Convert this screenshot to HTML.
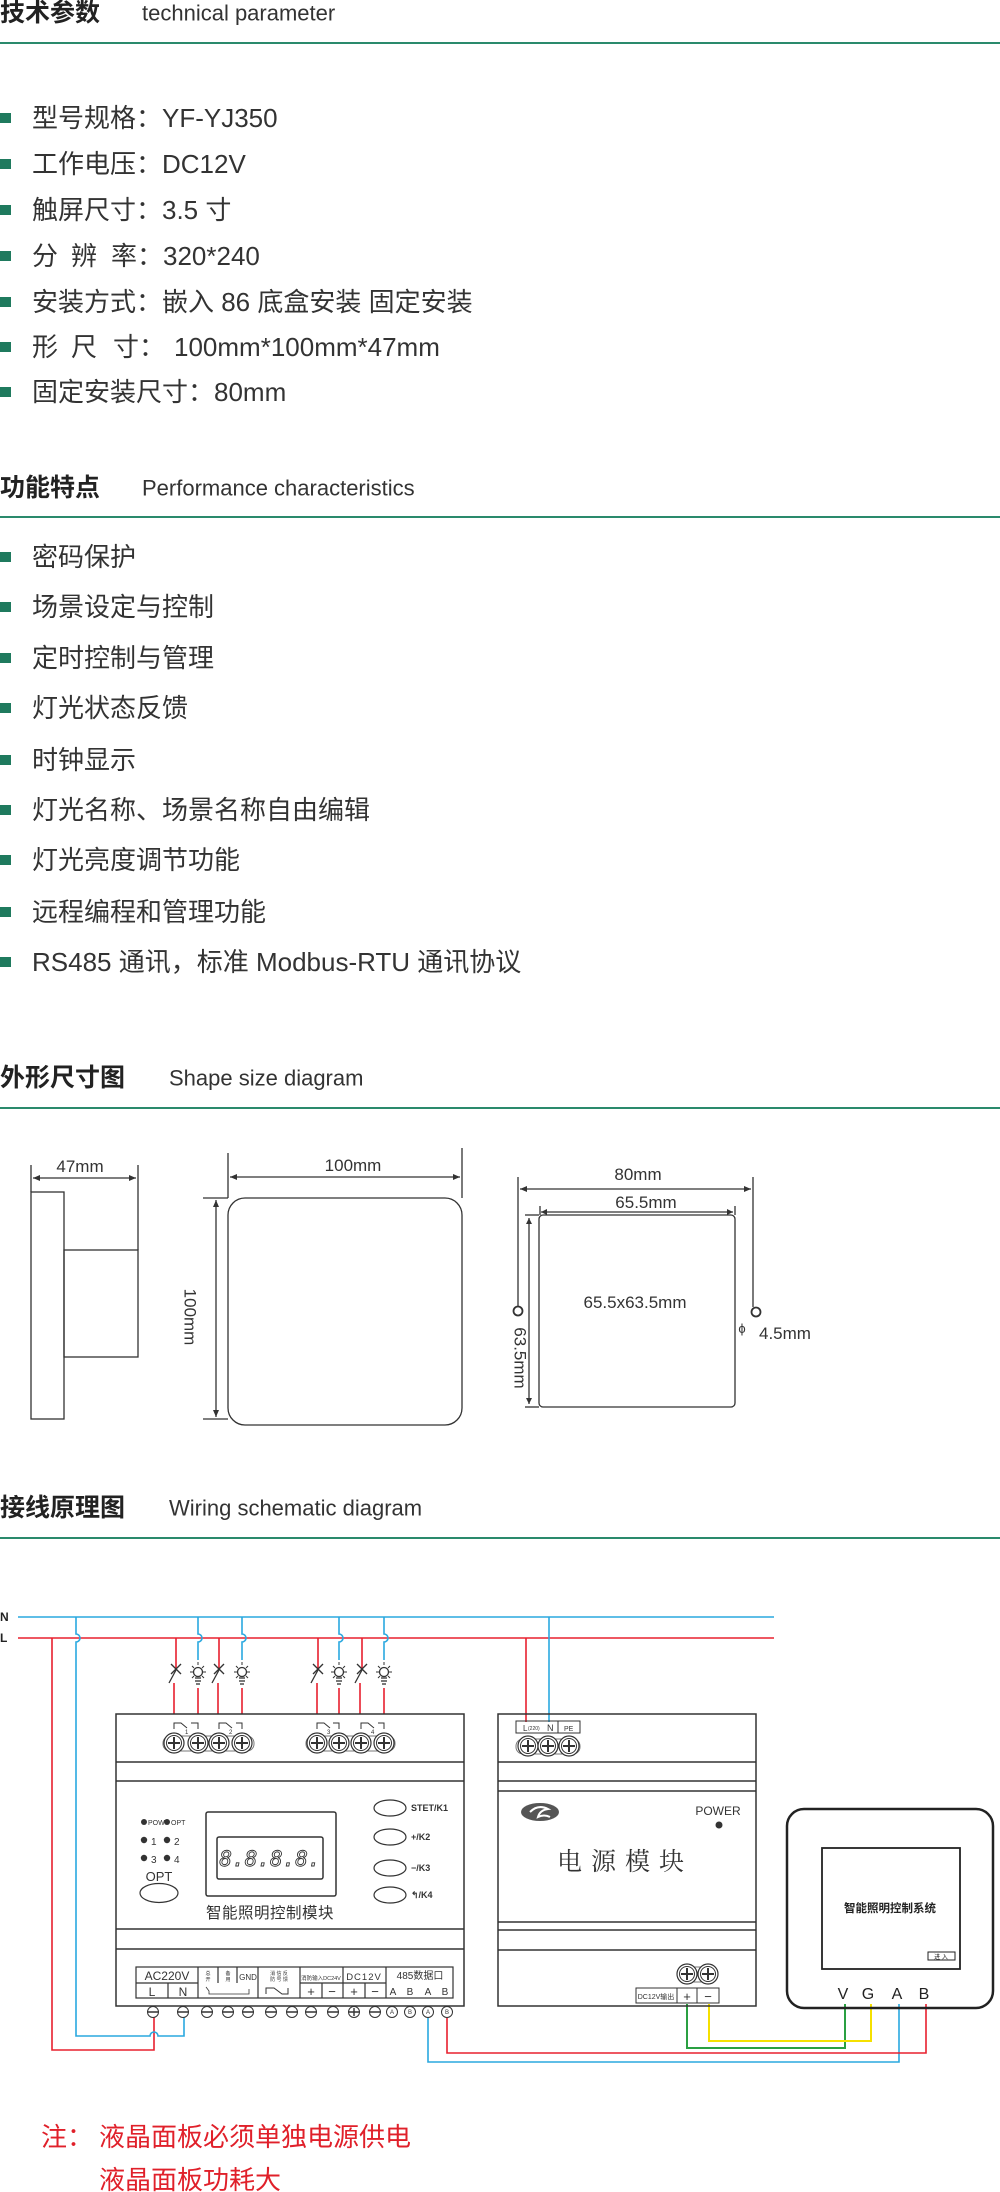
<!DOCTYPE html>
<html><head><meta charset="utf-8"><style>
html,body{margin:0;padding:0;background:#fff;}
svg{display:block;}
</style></head><body>
<svg width="1000" height="2192" viewBox="0 0 1000 2192" xmlns="http://www.w3.org/2000/svg">
<g font-family="Liberation Sans, Noto Sans CJK SC, sans-serif" fill="#333">
<text x="0" y="13" dominant-baseline="central" font-size="25" font-weight="bold" fill="#222">技术参数</text>
<text x="142" y="13" dominant-baseline="central" font-size="22" fill="#333">technical parameter</text>
<rect x="0" y="42" width="1000" height="2" fill="#2a8a6c"/>
<g font-size="26">
<rect x="0" y="113" width="11" height="10" fill="#1f7a5e"/><text x="32" y="118" dominant-baseline="central">型号规格：YF-YJ350</text>
<rect x="0" y="159" width="11" height="10" fill="#1f7a5e"/><text x="32" y="164" dominant-baseline="central">工作电压：DC12V</text>
<rect x="0" y="205" width="11" height="10" fill="#1f7a5e"/><text x="32" y="210" dominant-baseline="central">触屏尺寸：3.5 寸</text>
<rect x="0" y="251" width="11" height="10" fill="#1f7a5e"/><text y="256" dominant-baseline="central"><tspan x="32">分</tspan><tspan x="71">辨</tspan><tspan x="111">率：320*240</tspan></text>
<rect x="0" y="297" width="11" height="10" fill="#1f7a5e"/><text x="32" y="302" dominant-baseline="central">安装方式：嵌入 86 底盒安装  固定安装</text>
<rect x="0" y="342" width="11" height="10" fill="#1f7a5e"/><text y="347" dominant-baseline="central"><tspan x="32">形</tspan><tspan x="71">尺</tspan><tspan x="113">寸：</tspan><tspan x="174">100mm*100mm*47mm</tspan></text>
<rect x="0" y="387" width="11" height="10" fill="#1f7a5e"/><text x="32" y="392" dominant-baseline="central">固定安装尺寸：80mm</text>
</g>
<text x="0" y="488" dominant-baseline="central" font-size="25" font-weight="bold" fill="#222">功能特点</text>
<text x="142" y="488" dominant-baseline="central" font-size="22">Performance  characteristics</text>
<rect x="0" y="516" width="1000" height="2" fill="#2a8a6c"/>
<g font-size="26">
<rect x="0" y="552" width="11" height="10" fill="#1f7a5e"/><text x="32" y="557" dominant-baseline="central">密码保护</text>
<rect x="0" y="602" width="11" height="10" fill="#1f7a5e"/><text x="32" y="607" dominant-baseline="central">场景设定与控制</text>
<rect x="0" y="653" width="11" height="10" fill="#1f7a5e"/><text x="32" y="658" dominant-baseline="central">定时控制与管理</text>
<rect x="0" y="703" width="11" height="10" fill="#1f7a5e"/><text x="32" y="708" dominant-baseline="central">灯光状态反馈</text>
<rect x="0" y="755" width="11" height="10" fill="#1f7a5e"/><text x="32" y="760" dominant-baseline="central">时钟显示</text>
<rect x="0" y="805" width="11" height="10" fill="#1f7a5e"/><text x="32" y="810" dominant-baseline="central">灯光名称、场景名称自由编辑</text>
<rect x="0" y="855" width="11" height="10" fill="#1f7a5e"/><text x="32" y="860" dominant-baseline="central">灯光亮度调节功能</text>
<rect x="0" y="907" width="11" height="10" fill="#1f7a5e"/><text x="32" y="912" dominant-baseline="central">远程编程和管理功能</text>
<rect x="0" y="957" width="11" height="10" fill="#1f7a5e"/><text x="32" y="962" dominant-baseline="central">RS485 通讯，标准 Modbus-RTU 通讯协议</text>
</g>
<text x="0" y="1078" dominant-baseline="central" font-size="25" font-weight="bold" fill="#222">外形尺寸图</text>
<text x="169" y="1078" dominant-baseline="central" font-size="22">Shape size diagram</text>
<rect x="0" y="1107" width="1000" height="2" fill="#2a8a6c"/>
</g>
<g stroke="#333" stroke-width="1.3" fill="none">
<rect x="31" y="1192" width="33" height="227"/>
<rect x="64" y="1250" width="74" height="107"/>
<line x1="31" y1="1165" x2="31" y2="1192"/><line x1="138" y1="1165" x2="138" y2="1250"/>
<line x1="33" y1="1178" x2="136" y2="1178"/>
<rect x="228" y="1198" width="234" height="227" rx="17"/>
<line x1="228" y1="1153" x2="228" y2="1198"/><line x1="462" y1="1148" x2="462" y2="1198"/>
<line x1="230" y1="1177" x2="460" y2="1177"/>
<line x1="203" y1="1198" x2="228" y2="1198"/><line x1="203" y1="1419" x2="228" y2="1419"/>
<line x1="216" y1="1200" x2="216" y2="1417"/>
<rect x="539" y="1215" width="196" height="192" rx="4"/>
<line x1="518" y1="1177" x2="518" y2="1306"/><line x1="753" y1="1177" x2="753" y2="1307"/>
<line x1="520" y1="1189" x2="751" y2="1189"/>
<line x1="541" y1="1212" x2="733" y2="1212"/>
<line x1="529" y1="1218" x2="529" y2="1404"/>
<line x1="525" y1="1215" x2="539" y2="1215"/><line x1="525" y1="1407" x2="539" y2="1407"/>
<line x1="540" y1="1206" x2="540" y2="1215"/><line x1="735" y1="1206" x2="735" y2="1215"/>
<circle cx="518" cy="1311" r="4.5" stroke-width="1.8"/><circle cx="756" cy="1312" r="4.5" stroke-width="1.8"/>
</g>
<g fill="#333">
<path d="M33 1178 l7 -3 v6z M136 1178 l-7 -3 v6z M230 1177 l7 -3 v6z M460 1177 l-7 -3 v6z M216 1200 l-3 7 h6z M216 1417 l-3 -7 h6z M520 1189 l7 -3 v6z M751 1189 l-7 -3 v6z M541 1212 l6 -3 v6z M733 1212 l-6 -3 v6z M529 1218 l-3 6 h6z M529 1404 l-3 -6 h6z"/>
</g>
<g font-family="Liberation Sans, sans-serif" font-size="17" fill="#333" text-anchor="middle">
<text x="80" y="1172">47mm</text>
<text x="353" y="1171">100mm</text>
<text x="638" y="1180">80mm</text>
<text x="646" y="1208">65.5mm</text>
<text x="635" y="1308">65.5x63.5mm</text>
<text x="190" y="1317" transform="rotate(90 190 1317)" dominant-baseline="central">100mm</text>
<text x="520" y="1358" transform="rotate(90 520 1358)" dominant-baseline="central">63.5mm</text>
<text x="742" y="1333" font-size="13">ϕ</text>
<text x="759" y="1339" text-anchor="start">4.5mm</text>
</g>
<g font-family="Liberation Sans, Noto Sans CJK SC, sans-serif" fill="#333">
<text x="0" y="1508" dominant-baseline="central" font-size="25" font-weight="bold" fill="#222">接线原理图</text>
<text x="169" y="1508" dominant-baseline="central" font-size="22">Wiring schematic diagram</text>
<rect x="0" y="1537" width="1000" height="2" fill="#2a8a6c"/>
<text x="0" y="1621" font-size="12" font-weight="bold" fill="#222">N</text>
<text x="0" y="1642" font-size="12" font-weight="bold" fill="#222">L</text>
</g>
<g fill="none" stroke-width="1.6">
<line x1="18" y1="1617" x2="774" y2="1617" stroke="#2aa8df"/>
<line x1="18" y1="1638" x2="774" y2="1638" stroke="#e8202f"/>
<polyline points="52,1638 52,2050 154,2050 154,2014" stroke="#e8202f"/>
<path d="M76 1617 V1634 a4 4 0 0 1 0 8 V2036 H150 a4 4 0 0 1 8 0 H184 V2014" stroke="#2aa8df"/>
<path d="M198 1617 V1634 a4 4 0 0 1 0 8 V1660 M242 1617 V1634 a4 4 0 0 1 0 8 V1660 M339 1617 V1634 a4 4 0 0 1 0 8 V1660 M384 1617 V1634 a4 4 0 0 1 0 8 V1660" stroke="#2aa8df"/>
<path d="M198 1688 V1714 M242 1688 V1714 M339 1688 V1714 M384 1688 V1714" stroke="#e8202f"/>
<path d="M176 1638 V1668 M174 1683 V1714 M219 1638 V1668 M218 1683 V1714 M318 1638 V1668 M317 1683 V1714 M362 1638 V1668 M360 1683 V1714" stroke="#e8202f"/>
<line x1="526" y1="1638" x2="526" y2="1722" stroke="#e8202f"/>
<line x1="549" y1="1617" x2="549" y2="1722" stroke="#2aa8df"/>
<polyline points="428,2018 428,2062 899,2062 899,2004" stroke="#2aa8df"/>
<polyline points="447,2018 447,2053 926,2053 926,2004" stroke="#e8202f"/>
<polyline points="687,2004 687,2048 845,2048 845,2004" stroke="#2aa042" stroke-width="2"/>
<polyline points="709,2004 709,2041 871,2041 871,2004" stroke="#f5e000" stroke-width="2"/>
</g>
<g stroke="#333" stroke-width="1.3" fill="none">
<g id="sw"><line x1="169" y1="1683" x2="176" y2="1670"/><line x1="171" y1="1664" x2="181" y2="1674"/><line x1="181" y1="1664" x2="171" y2="1674"/></g>
<use href="#sw" x="43"/><use href="#sw" x="142"/><use href="#sw" x="186"/>
<g id="lp"><circle cx="198" cy="1672" r="4.5"/><line x1="195" y1="1678" x2="201" y2="1678"/><line x1="195" y1="1681" x2="201" y2="1681"/><line x1="196" y1="1684" x2="200" y2="1684"/>
<path d="M198 1662 v3 M190 1672 h3 M203 1672 h3 M192 1666 l2 2 M204 1666 l-2 2 M192 1678 l2 -2 M204 1678 l-2 -2" stroke-width="1"/></g>
<use href="#lp" x="44"/><use href="#lp" x="141"/><use href="#lp" x="186"/>
</g>
<g stroke="#333" fill="none" stroke-width="1.5">
<rect x="116" y="1714" width="348" height="292" fill="#fff"/>
<line x1="116" y1="1762" x2="464" y2="1762"/><line x1="116" y1="1781" x2="464" y2="1781"/>
<line x1="116" y1="1929" x2="464" y2="1929"/><line x1="116" y1="1949" x2="464" y2="1949"/>
<g stroke-width="1">
<path d="M174 1729 v-6 h7 l6 5 M191 1723 h7 v6 M219 1729 v-6 h7 l6 5 M236 1723 h6 v6 M317 1729 v-6 h7 l6 5 M333 1723 h6 v6 M361 1729 v-6 h7 l6 5 M378 1723 h6 v6"/>
<rect x="163" y="1736" width="91" height="15" rx="7" stroke="#777"/>
<rect x="306" y="1736" width="89" height="15" rx="7" stroke="#777"/>
</g>
</g>
<g font-family="Liberation Sans, sans-serif" font-size="6" fill="#333"><text x="185" y="1734">1</text><text x="229" y="1734">2</text><text x="327" y="1734">3</text><text x="371" y="1734">4</text></g>
<g stroke="#333" fill="#fff" stroke-width="1.2">
<g id="tm"><circle cx="174" cy="1743" r="10"/><circle cx="174" cy="1743" r="7.5" stroke-width="1"/><path d="M174 1737 v12 M168 1743 h12" stroke-width="2"/></g>
<use href="#tm" x="24"/><use href="#tm" x="45"/><use href="#tm" x="68"/>
<use href="#tm" x="143"/><use href="#tm" x="165"/><use href="#tm" x="187"/><use href="#tm" x="210"/>
</g>
<g stroke="#333" fill="none" stroke-width="1.5">
<rect x="206" y="1812" width="130" height="84" rx="2"/>
<rect x="217" y="1837" width="106" height="42" rx="2"/>
<ellipse cx="159" cy="1893" rx="19" ry="9.5" stroke-width="1.2"/>
<ellipse cx="390" cy="1808" rx="16" ry="8" stroke-width="1.2"/>
<ellipse cx="390" cy="1837" rx="16" ry="8" stroke-width="1.2"/>
<ellipse cx="390" cy="1868" rx="16" ry="8" stroke-width="1.2"/>
<ellipse cx="390" cy="1895" rx="16" ry="8" stroke-width="1.2"/>
</g>
<text x="270" y="1866" text-anchor="middle" font-family="DejaVu Sans Mono, monospace" font-size="21" font-style="italic" fill="none" stroke="#333" stroke-width="0.9">8.8.8.8.</text>
<g fill="#333" font-family="Liberation Sans, Noto Sans CJK SC, sans-serif">
<circle cx="144" cy="1822" r="3"/><circle cx="167" cy="1822" r="3"/>
<text x="148" y="1825" font-size="7">POW</text><text x="171" y="1825" font-size="7">OPT</text>
<circle cx="144" cy="1840" r="3.2"/><circle cx="167" cy="1840" r="3.2"/>
<text x="151" y="1845" font-size="10">1</text><text x="174" y="1845" font-size="10">2</text>
<circle cx="144" cy="1858" r="3.2"/><circle cx="167" cy="1858" r="3.2"/>
<text x="151" y="1863" font-size="10">3</text><text x="174" y="1863" font-size="10">4</text>
<text x="159" y="1881" font-size="13" text-anchor="middle">OPT</text>
<text x="270" y="1918" font-size="15.5" text-anchor="middle" letter-spacing="0.5">智能照明控制模块</text>
<g font-size="9" font-weight="bold"><text x="411" y="1811">STET/K1</text><text x="411" y="1840">+/K2</text><text x="411" y="1871">−/K3</text><text x="411" y="1898">↰/K4</text></g>
</g>
<g stroke="#333" fill="none" stroke-width="1.2">
<rect x="136" y="1967" width="317" height="31"/>
<line x1="136" y1="1983" x2="198" y2="1983"/><line x1="300" y1="1983" x2="386" y2="1983"/>
<path d="M168 1983 V1998 M198 1967 V1998 M218 1967 V1983 M237 1967 V1983 M258 1967 V1998 M300 1967 V1998 M322 1983 V1998 M343 1967 V1998 M365 1983 V1998 M386 1967 V1998"/>
<path d="M266 1994 v-6 h8 l8 6 h6 v-6" stroke-width="1"/>
<path d="M206 1987 l3 4 v3 h40 v-5" stroke-width="0.8"/>
</g>
<g fill="#333" font-family="Liberation Sans, Noto Sans CJK SC, sans-serif" text-anchor="middle">
<text x="167" y="1980" font-size="12">AC220V</text>
<text x="152" y="1996" font-size="12">L</text><text x="183" y="1996" font-size="12">N</text>
<text x="208" y="1975" font-size="5">总</text><text x="208" y="1981" font-size="5">开</text>
<text x="228" y="1975" font-size="5">备</text><text x="228" y="1981" font-size="5">用</text>
<text x="248" y="1980" font-size="8">GND</text>
<text x="279" y="1975" font-size="5">消 信 反</text><text x="279" y="1981" font-size="5">防 号 馈</text>
<text x="321" y="1980" font-size="5.5">消防输入DC24V</text>
<text x="311" y="1996" font-size="13">+</text><text x="332" y="1996" font-size="13">−</text>
<text x="364" y="1980" font-size="9.5" letter-spacing="1">DC12V</text>
<text x="354" y="1996" font-size="13">+</text><text x="375" y="1996" font-size="13">−</text>
<text x="420" y="1979" font-size="10">485数据口</text>
<text x="393" y="1995" font-size="10">A</text><text x="410" y="1995" font-size="10">B</text><text x="428" y="1995" font-size="10">A</text><text x="445" y="1995" font-size="10">B</text>
</g>
<g stroke="#333" fill="#fff" stroke-width="1">
<circle cx="153" cy="2012" r="5.5"/><circle cx="183" cy="2012" r="5.5"/><circle cx="207" cy="2012" r="5.5"/><circle cx="228" cy="2012" r="5.5"/><circle cx="248" cy="2012" r="5.5"/><circle cx="271" cy="2012" r="5.5"/><circle cx="292" cy="2012" r="5.5"/><circle cx="311" cy="2012" r="5.5"/><circle cx="333" cy="2012" r="5.5"/><circle cx="354" cy="2012" r="5.5"/><circle cx="375" cy="2012" r="5.5"/><circle cx="392" cy="2012" r="5.5"/><circle cx="410" cy="2012" r="5.5"/><circle cx="428" cy="2012" r="5.5"/><circle cx="447" cy="2012" r="5.5"/>
<path d="M148 2012 h10 M178 2012 h10 M202 2012 h10 M223 2012 h10 M243 2012 h10 M266 2012 h10 M287 2012 h10 M306 2012 h10 M328 2012 h10 M349 2012 h10 M354 2008 v8 M370 2012 h10" fill="none" stroke-width="1.4"/>
</g>
<g font-family="Liberation Sans, sans-serif" font-size="6" fill="#333" text-anchor="middle"><text x="392" y="2014">A</text><text x="410" y="2014">B</text><text x="428" y="2014">A</text><text x="447" y="2014">B</text></g>
<g stroke="#333" fill="none" stroke-width="1.5">
<rect x="498" y="1714" width="258" height="292"/>
<line x1="498" y1="1762" x2="756" y2="1762"/><line x1="498" y1="1781" x2="756" y2="1781"/><line x1="498" y1="1791" x2="756" y2="1791"/>
<line x1="498" y1="1922" x2="756" y2="1922"/><line x1="498" y1="1930" x2="756" y2="1930"/><line x1="498" y1="1950" x2="756" y2="1950"/>
<rect x="516" y="1721" width="64" height="12" stroke-width="1"/><line x1="558" y1="1721" x2="558" y2="1733" stroke-width="1"/>
<rect x="516" y="1739" width="64" height="15" rx="7" stroke="#777" stroke-width="1"/>
<rect x="680" y="1967" width="35" height="15" rx="7" stroke="#777" stroke-width="1"/>
<rect x="636" y="1988" width="83" height="15" stroke-width="1"/>
<path d="M677 1988 v15 M697 1988 v15" stroke-width="1"/>
</g>
<g stroke="#333" fill="#fff" stroke-width="1.2">
<use href="#tm" x="354" y="3"/><use href="#tm" x="374" y="3"/><use href="#tm" x="395" y="3"/>
<use href="#tm" x="513" y="231"/><use href="#tm" x="534" y="231"/>
</g>
<g fill="#333" font-family="Liberation Sans, Noto Sans CJK SC, sans-serif">
<text x="523" y="1731" font-size="8">L</text><text x="528" y="1730" font-size="5">(220)</text><text x="547" y="1731" font-size="9">N</text><text x="564" y="1731" font-size="7">PE</text>
<ellipse cx="540" cy="1812" rx="19" ry="9" fill="#555"/>
<path d="M530 1812 q8 -8 18 -3 q-8 1 -10 8 q6 -3 12 0" stroke="#fff" stroke-width="2" fill="none"/>
<text x="718" y="1815" font-size="12" text-anchor="middle">POWER</text>
<circle cx="719" cy="1825" r="3.5"/>
<text x="625" y="1870" font-family="Liberation Serif, Noto Serif CJK SC, serif" font-size="25" text-anchor="middle" letter-spacing="9">电源模块</text>
<text x="656" y="1999" font-size="7" text-anchor="middle">DC12V输出</text>
<text x="687" y="2001" font-size="13" text-anchor="middle">+</text><text x="708" y="2001" font-size="13" text-anchor="middle">−</text>
</g>
<g stroke="#222" fill="none">
<rect x="787" y="1809" width="206" height="199" rx="17" stroke-width="2.5"/>
<rect x="822" y="1848" width="138" height="121" stroke-width="1.8"/>
<rect x="928" y="1952" width="27" height="8" stroke-width="1"/>
</g>
<g fill="#222" font-family="Liberation Sans, Noto Sans CJK SC, sans-serif" text-anchor="middle">
<text x="890" y="1912" font-size="11.5" font-weight="bold">智能照明控制系统</text>
<text x="941" y="1959" font-size="6">进 入</text>
<text x="843" y="1999" font-size="16">V</text><text x="868" y="1999" font-size="16">G</text><text x="897" y="1999" font-size="16">A</text><text x="924" y="1999" font-size="16">B</text>
</g>
<g fill="#e0202a" font-family="Liberation Sans, Noto Sans CJK SC, sans-serif" font-size="26">
<text x="41" y="2137" dominant-baseline="central">注：</text>
<text x="99" y="2137" dominant-baseline="central">液晶面板必须单独电源供电</text>
<text x="99" y="2180" dominant-baseline="central">液晶面板功耗大</text>
</g>
</svg>
</body></html>
